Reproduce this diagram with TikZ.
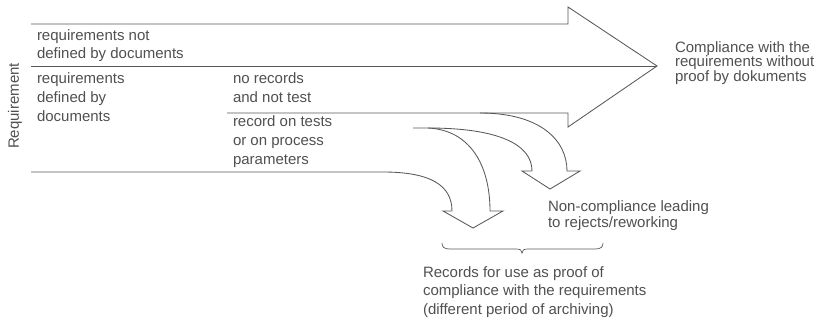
\documentclass[tikz,border=0pt]{standalone}
\usepackage{fontspec}
\setmainfont{Liberation Sans}
\definecolor{inkline}{RGB}{88,88,88}
\definecolor{inktext}{RGB}{80,80,80}
\tikzset{
  outline/.style={draw=inkline, line width=0.85bp, line join=miter},
  % multi-line labels are placed by the baseline of their last line
  label/.style={inner sep=0pt, outer sep=0pt, align=left, text=inktext, anchor=base west,
    font=\fontsize{15bp}{#1}\selectfont},
  label/.default=18.5bp,
}
\begin{document}
\begin{tikzpicture}[x=1bp, y=-1bp]
\useasboundingbox (0,0) rectangle (823,320);

% broad arrow: requirements that pass without records
\draw[outline] (31,24) -- (568,24) -- (568,7) -- (657,66) -- (568,127) -- (568,113) -- (227,113);
\draw[outline] (31,66) -- (657,66);

% bottom band bending down into the "records" arrow
\draw[outline] (31,172) -- (383,172)
  .. controls (430,172) and (452,185) .. (452,211)
  -- (443,211) -- (473,228) -- (503,211) -- (490,211)
  .. controls (490,165) and (470,130) .. (428,128) -- (413,128);

% arrow splitting off towards non-compliance
\draw[outline] (428,128) .. controls (500,128) and (532,145) .. (532,171)
  -- (522,171) -- (550,189) -- (580,171) -- (567,171)
  .. controls (567,140) and (540,113) .. (480,113);

% brace under both arrow tips
\draw[outline, line width=0.7bp] (442,243) .. controls (442,247) and (444,249) .. (450,249) -- (516,249)
  .. controls (520,249) and (522,250) .. (522,253)
  .. controls (522,250) and (524,249) .. (528,249) -- (595,249)
  .. controls (601,249) and (603,247) .. (603,243);

% texts
\node[label, anchor=center, rotate=90] (req) at (15,106) {Requirement};
\node[label=18bp] (notdef) at (37,58) {requirements not\\defined by documents};
\node[label=19bp] (def) at (37,121) {requirements\\defined by\\documents};
\node[label=19bp] (norec) at (233,102) {no records\\and not test};
\node[label=19bp] (rec) at (233,164) {record on tests\\or on process\\parameters};
\node[label=14.5bp] (compl) at (675,81) {Compliance with the\\requirements without\\proof by dokuments};
\node[label=16bp] (noncompl) at (548,227) {Non-compliance leading\\to rejects/reworking};
\node[label=18.5bp] (records) at (423,314) {Records for use as proof of\\compliance with the requirements\\(different period of archiving)};
\end{tikzpicture}
\end{document}
